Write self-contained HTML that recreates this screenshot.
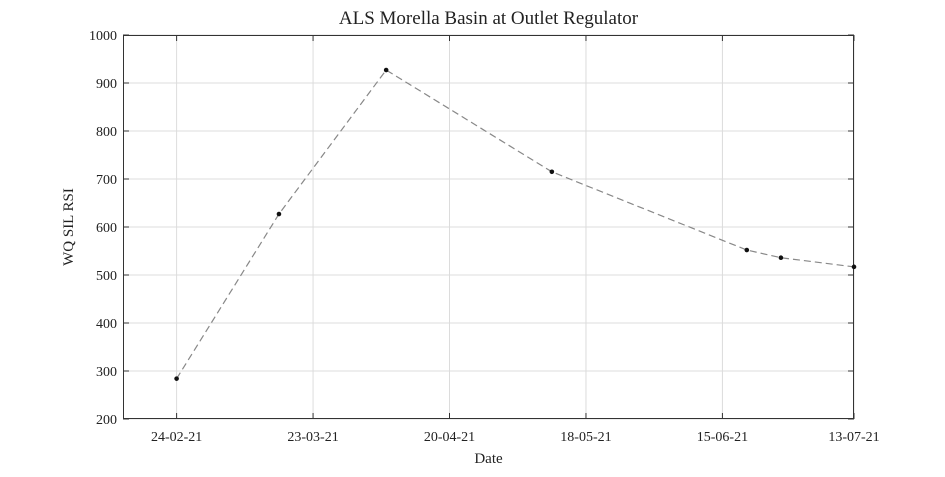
<!DOCTYPE html>
<html><head><meta charset="utf-8"><style>
body{margin:0;background:#fff;}
svg text{font-family:"Liberation Serif",serif;fill:#222;}
</style></head><body>
<svg id="chart" width="945" height="472" xmlns="http://www.w3.org/2000/svg"></svg>
<script>
const dates = ["2021-02-24","2021-03-17","2021-04-08","2021-05-12","2021-06-21","2021-06-28","2021-07-13"];
const values = [284, 627, 927, 715, 552, 536, 517];
const xTickDates = ["2021-02-24","2021-03-24","2021-04-21","2021-05-19","2021-06-16","2021-07-13"];
const xTickLabels = ["24-02-21","23-03-21","20-04-21","18-05-21","15-06-21","13-07-21"];
const yTicks = [200,300,400,500,600,700,800,900,1000];

const L=123,R=854,T=35,B=419;
const d0=Date.parse("2021-02-13"), d1=Date.parse("2021-07-13");
const xs=d=>L+(Date.parse(d)-d0)/(d1-d0)*(R-L);
const ys=v=>B-(v-200)/800*(B-T);
const svg=document.getElementById('chart');
const NS="http://www.w3.org/2000/svg";
function mk(tag,attrs,parent){const e=document.createElementNS(NS,tag);for(const k in attrs)e.setAttribute(k,attrs[k]);(parent||svg).appendChild(e);return e;}

mk('rect',{x:L,y:T,width:R-L,height:B-T,fill:'#fff'});
yTicks.forEach(v=>{
  const y=ys(v);
  const g=mk('line',{x1:L,x2:R,y1:y,y2:y,stroke:'#dcdcdc','stroke-width':1});
  
  
  mk('line',{x1:L,x2:L+6,y1:y,y2:y,stroke:'#333'});
  mk('line',{x1:R,x2:R-6,y1:y,y2:y,stroke:'#333'});
  const t=mk('text',{x:L-6,y:y+5,'text-anchor':'end','font-size':14});
  t.textContent=v;
  
  
});
xTickDates.forEach((d,i)=>{
  const x=xs(d);
  const g=mk('line',{x1:x,x2:x,y1:T,y2:B,stroke:'#dcdcdc','stroke-width':1});
  
  
  mk('line',{x1:x,x2:x,y1:B,y2:B-6,stroke:'#333'});
  mk('line',{x1:x,x2:x,y1:T,y2:T+6,stroke:'#333'});
  const t=mk('text',{x:x,y:B+22,'text-anchor':'middle','font-size':14});
  t.textContent=xTickLabels[i];
  
  
});
const frame=mk('rect',{x:L+0.5,y:T+0.5,width:R-L-1,height:B-T-1,fill:'none',stroke:'#333','stroke-width':1});



const line=mk('polyline',{points:dates.map((d,i)=>xs(d)+','+ys(values[i])).join(' '),fill:'none',stroke:'#888','stroke-width':1.2,'stroke-dasharray':'7,4'});


dates.forEach((d,i)=>{
  const c=mk('circle',{cx:xs(d),cy:ys(values[i]),r:2.3,fill:'#111'});
  
  
});

const title=mk('text',{x:(L+R)/2,y:24,'text-anchor':'middle','font-size':19});
title.textContent="ALS Morella Basin at Outlet Regulator";


const xl=mk('text',{x:(L+R)/2,y:463,'text-anchor':'middle','font-size':15});
xl.textContent="Date";


const yl=mk('text',{x:0,y:0,'text-anchor':'middle','font-size':15,transform:'translate(73,'+((T+B)/2)+') rotate(-90)'});
yl.textContent="WQ SIL RSI";


</script>
</body></html>
